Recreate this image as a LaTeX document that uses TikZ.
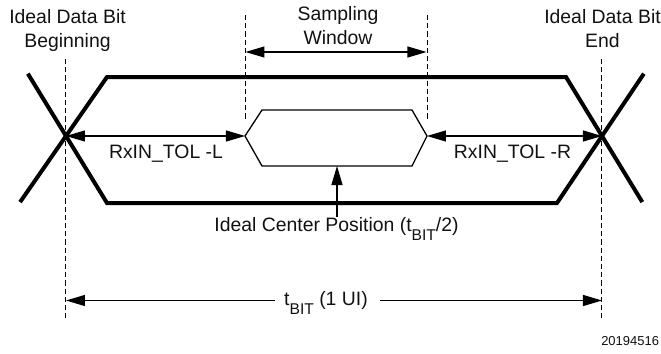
\documentclass[tikz,border=0pt]{standalone}
\usepackage{fontspec}
\setmainfont{Liberation Sans}
\usetikzlibrary{arrows.meta,calc}
\definecolor{Ink}{HTML}{111111}
\newcommand{\tbit}{t\raisebox{-4.6pt}{\fontsize{7.8}{8}\selectfont BIT}}

\begin{document}
\begin{tikzpicture}[x=0.5pt,y=-0.5pt,>={Triangle[length=9.5pt,width=5.5pt]},
    eye/.style={line width=2pt,line join=miter},
    inner/.style={line width=0.65pt,line join=miter},
    guide/.style={line width=0.5pt,dash pattern=on 2.6pt off 1.5pt},
    dim/.style={line width=0.6pt},
    lbl/.style={font=\fontsize{9.7}{11.7}\selectfont,text=Ink,inner sep=0pt}]
  \useasboundingbox (0,0) rectangle (661,354);
  % crossings and corners of the outer eye
  \coordinate (xL) at (66,136);
  \coordinate (xR) at (602,136);
  \coordinate (tl) at (107,77);
  \coordinate (bl) at (107,203);
  \coordinate (tr) at (566,77);
  \coordinate (br) at (557,203);
  \draw[eye] ($(bl)!1.93!(xL)$) -- (bl) -- (br) -- ($(br)!1.93!(xR)$);
  \draw[eye] ($(tl)!2.12!(xL)$) -- (tl) -- (tr) -- ($(tr)!2.12!(xR)$);
  % sampling window
  \coordinate (hL) at (245,136);
  \coordinate (hR) at (427,136);
  \coordinate (hB) at (337,166);
  \draw[inner] (hL) -- (262,110) -- (412,110) -- (hR) -- (412,166) -- (262,166) -- cycle;
  \foreach \p in {xL,xR}{
    \draw[guide] (\p |- 0,59) -- (\p |- 0,319);
  }
  \foreach \p in {hL,hR}{
    \draw[guide] ([xshift=0.25pt]\p |- 0,15) -- ([xshift=0.25pt]\p |- 0,120);
  }
  \coordinate (swL) at (245.5,52);
  \coordinate (swR) at (426.5,52);
  \coordinate (bL) at (66,300.5);
  \coordinate (bR) at (602,300.5);
  \node[lbl,anchor=north,align=center] (begin) at (67.5,9.5) {Ideal Data Bit\\Beginning};
  \node[lbl,anchor=north,align=center] (end) at (602.5,9.5) {Ideal Data Bit\\End};
  \node[lbl,anchor=north,align=center] (window) at (338,6.5) {Sampling\\Window};
  \node[lbl,anchor=base] (tolL) at (166,158.3) {RxIN\_TOL -L};
  \node[lbl,anchor=base] (tolR) at (512.5,158.3) {RxIN\_TOL -R};
  \node[lbl,anchor=base] (center) at (336.5,231.7) {Ideal Center Position (\tbit/2)};
  \node[lbl,anchor=base] (ui) at (326,305) {\tbit{} (1 UI)};
  \node[font=\fontsize{6.5}{7}\selectfont,text=Ink,inner sep=0pt,anchor=base east]
        (fig) at (659.5,345) {20194516};
  \draw[dim,<->] (swL) -- (swR);
  \draw[dim,<->] (xL) -- (hL);
  \draw[dim,<->] (hR) -- (xR);
  \draw[dim,->] (hB |- center.north) -- (hB);
  \draw[dim,->] ([xshift=-4.3pt]ui.west |- bL) -- (bL);
  \draw[dim,->] ([xshift=5.8pt]ui.east |- bR) -- (bR);
\end{tikzpicture}
\end{document}
